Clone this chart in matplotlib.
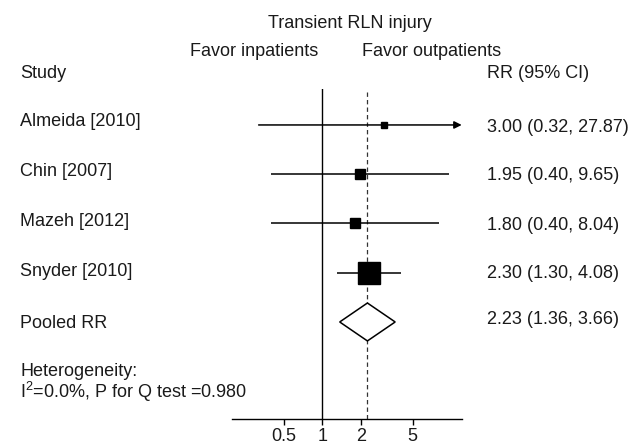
import numpy as np
import matplotlib
matplotlib.use("Agg")
import matplotlib.pyplot as plt
from matplotlib.patches import Polygon

plt.rcParams['font.family'] = ['Liberation Sans', 'DejaVu Sans']
plt.rcParams['mathtext.fontset'] = 'custom'
plt.rcParams['mathtext.rm'] = 'Liberation Sans'
plt.rcParams['mathtext.it'] = 'Liberation Sans:italic'
plt.rcParams['text.color'] = '#1a1a1a'
plt.rcParams['xtick.labelcolor'] = '#1a1a1a'

# data
studies = ['Almeida [2010]', 'Chin [2007]', 'Mazeh [2012]', 'Snyder [2010]']
rr = [3.00, 1.95, 1.80, 2.30]
lo = [0.32, 0.40, 0.40, 1.30]
hi = [27.87, 9.65, 8.04, 4.08]
weights = [7, 12, 12, 69]  # estimated from square sizes
pooled = (2.23, 1.36, 3.66)
ticks = [0.5, 1, 2, 5]
xmin, xmax = 0.2, 12

W, H = 635, 446
fig = plt.figure(figsize=(W / 100, H / 100), dpi=100)

def fx(px):
    return px / W

def fy(py):
    return 1 - py / H

# plot area in pixels: x 232..462, y 89..419
ax = fig.add_axes([fx(232.3), fy(419), (461.7 - 232.3) / W, (419 - 89) / H])
ax.set_xscale('log')
ax.set_xlim(xmin, xmax)
ax.set_ylim(5.97, -0.73)

for s in ['top', 'right', 'left']:
    ax.spines[s].set_visible(False)
ax.spines['bottom'].set_linewidth(1.0)
ax.set_yticks([])
ax.set_xticks(ticks)
ax.set_xticklabels([('%g' % t) for t in ticks])
ax.minorticks_off()
ax.tick_params(axis='x', direction='out', length=4.5, width=1.0, labelsize=13, pad=2)

ax.axvline(1, color='black', lw=1.0)
ax.plot([pooled[0], pooled[0]], [-0.67, 5.97], color='#333333', lw=0.9, ls=(0, (3.5, 2.5)))

rows = np.arange(len(studies))
for i in rows:
    top = min(hi[i], xmax)
    if hi[i] > xmax:
        ax.annotate('', xy=(xmax, i), xytext=(lo[i], i),
                    arrowprops=dict(arrowstyle='-|>', lw=1.1, color='black',
                                    mutation_scale=11, shrinkA=0, shrinkB=0),
                    annotation_clip=False)
    else:
        ax.plot([lo[i], top], [i, i], color='black', lw=1.1, solid_capstyle='butt')
    ax.plot(rr[i], i, marker='s', color='black', ls='none',
            markersize=1.9 * np.sqrt(weights[i]))

yp = len(studies)
diamond = Polygon([(pooled[1], yp), (pooled[0], yp - 0.385),
                   (pooled[2], yp), (pooled[0], yp + 0.385)],
                  closed=True, facecolor='white', edgecolor='black', lw=1.1, zorder=3)
ax.add_patch(diamond)

fs = 13
fig.text(fx(350), fy(23), 'Transient RLN injury', ha='center', va='center', fontsize=fs)
fig.text(fx(318), fy(52), 'Favor inpatients', ha='right', va='center', fontsize=fs)
fig.text(fx(362), fy(52), 'Favor outpatients', ha='left', va='center', fontsize=fs)
fig.text(fx(20), fy(73), 'Study', ha='left', va='center', fontsize=fs)
fig.text(fx(487), fy(73), 'RR (95% CI)', ha='left', va='center', fontsize=fs)

label_px = [121, 172, 222, 272, 323]
value_px = [127, 176, 225, 273, 319]
labels = studies + ['Pooled RR']
values = list(zip(rr, lo, hi)) + [pooled]
for k in range(len(labels)):
    fig.text(fx(20), fy(label_px[k]), labels[k], ha='left', va='center', fontsize=fs)
    fig.text(fx(487), fy(value_px[k]), '%.2f (%.2f, %.2f)' % values[k],
             ha='left', va='center', fontsize=fs)

fig.text(fx(20), fy(372), 'Heterogeneity:', ha='left', va='center', fontsize=fs)
fig.text(fx(20), fy(392), r'I$^{2}$=0.0%, P for Q test =0.980', ha='left', va='center', fontsize=fs)

fig.savefig('out.png', dpi=100)
